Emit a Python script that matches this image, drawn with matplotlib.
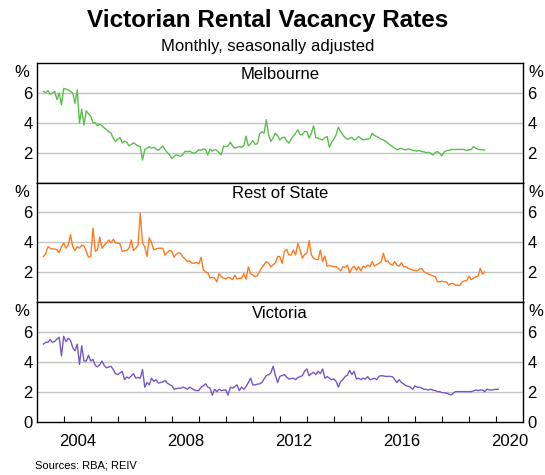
import numpy as np
import pandas as pd
import matplotlib
matplotlib.use("Agg")
import matplotlib.pyplot as plt

plt.rcParams['font.family'] = ['Liberation Sans', 'DejaVu Sans']

# ---------------- data (monthly, seasonally adjusted, %) ----------------
melb_start = "2003-04"
melbourne = [
    6.1, 6.0, 6.15, 5.9, 6.0, 6.1, 5.55, 6.0, 5.2,                       # 2003 Apr-Dec
    6.3, 6.25, 6.2, 6.1, 6.0, 5.3, 6.2, 4.0, 4.9, 3.85, 4.8, 4.6,         # 2004
    4.43, 4.0, 4.0, 3.8, 3.9, 3.8, 3.65, 3.55, 3.4, 3.3, 2.97, 2.75,      # 2005
    2.9, 3.0, 2.65, 2.75, 2.7, 2.45, 2.55, 2.65, 2.55, 2.45, 2.4, 1.5,    # 2006
    2.2, 2.3, 2.4, 2.3, 2.35, 2.25, 2.15, 2.3, 2.45, 2.2, 2.0, 1.85,      # 2007
    1.6, 1.75, 1.85, 1.8, 1.75, 1.9, 2.1, 2.05, 2.1, 2.0, 1.95, 2.05,     # 2008
    2.2, 2.15, 2.25, 2.2, 1.85, 2.25, 2.1, 2.2, 2.15, 2.0, 1.85, 2.45,    # 2009
    2.4, 2.45, 2.7, 2.45, 2.3, 2.35, 2.4, 2.35, 2.45, 3.1, 2.45, 2.6,     # 2010
    2.8, 2.55, 2.6, 3.25, 3.4, 3.3, 4.2, 3.2, 2.75, 3.0, 3.3, 3.15,       # 2011
    2.85, 3.0, 3.03, 2.8, 2.63, 2.9, 3.12, 3.3, 3.53, 3.2, 3.19, 3.42,    # 2012
    3.4, 2.97, 3.3, 3.8, 3.0, 2.97, 2.9, 2.85, 3.0, 3.08, 2.36, 2.7,      # 2013
    2.9, 3.2, 3.7, 3.4, 3.19, 3.0, 2.9, 2.95, 3.03, 2.85, 2.9, 3.08,      # 2014
    2.95, 2.85, 2.9, 2.9, 2.95, 3.3, 3.15, 3.08, 3.0, 2.9, 2.85, 2.75,    # 2015
    2.63, 2.5, 2.4, 2.3, 2.18, 2.25, 2.29, 2.2, 2.18, 2.25, 2.22, 2.15,   # 2016
    2.13, 2.1, 2.15, 2.07, 2.05, 2.0, 2.02, 1.95, 1.84, 2.0, 2.07, 1.95,  # 2017
    1.78, 2.05, 2.13, 2.15, 2.2, 2.22, 2.2, 2.22, 2.21, 2.22, 2.2, 2.15,  # 2018
    2.18, 2.2, 2.4, 2.3, 2.22, 2.2, 2.18, 2.18,                           # 2019 Jan-Aug
]

ros_start = "2003-04"
rest_of_state = [
    3.05, 3.23, 3.7, 3.6, 3.55, 3.55, 3.5, 3.3, 3.7,                      # 2003
    3.95, 3.6, 3.8, 4.5, 3.7, 3.45, 3.7, 3.6, 3.8, 3.75, 3.4, 3.0,        # 2004
    3.05, 4.95, 3.4, 3.5, 4.35, 3.6, 3.8, 3.95, 4.15, 3.95, 4.2, 3.95,    # 2005
    3.95, 3.9, 3.4, 3.42, 3.45, 3.6, 4.15, 3.45, 3.6, 3.8, 5.95, 3.95,    # 2006
    3.7, 3.05, 4.3, 3.95, 3.5, 3.55, 3.6, 3.6, 3.6, 3.15, 3.3, 3.45,      # 2007
    3.4, 3.0, 3.2, 3.3, 3.25, 3.0, 2.87, 2.7, 2.75, 2.6, 2.6, 2.65,       # 2008
    2.55, 3.0, 2.15, 2.0, 1.95, 1.6, 1.65, 1.6, 1.35, 1.9, 1.7, 1.6,      # 2009
    1.55, 1.65, 1.6, 1.5, 1.8, 1.53, 1.6, 1.57, 1.9, 1.53, 2.35, 1.9,     # 2010
    1.8, 1.7, 1.75, 2.05, 2.3, 2.5, 2.7, 2.6, 2.35, 2.5, 2.6, 3.05,       # 2011
    3.03, 2.58, 3.37, 3.53, 3.15, 3.15, 3.48, 3.15, 3.93, 3.48, 2.92, 3.2, # 2012
    3.26, 4.11, 3.15, 2.92, 2.85, 2.85, 3.48, 2.7, 3.08, 2.4, 2.45, 2.4,  # 2013
    2.36, 2.38, 2.25, 2.09, 2.36, 2.3, 2.47, 1.96, 2.25, 2.4, 2.13, 2.36, # 2014
    2.09, 2.4, 2.3, 2.47, 2.36, 2.7, 2.4, 2.5, 2.58, 2.7, 3.26, 2.7,      # 2015
    2.75, 2.54, 2.47, 2.7, 2.47, 2.4, 2.63, 2.36, 2.36, 2.25, 2.2, 2.13,  # 2016
    2.13, 2.09, 2.2, 2.25, 2.02, 1.95, 1.87, 1.8, 1.75, 1.69, 1.35, 1.35, # 2017
    1.4, 1.35, 1.35, 1.12, 1.24, 1.24, 1.12, 1.12, 1.12, 1.35, 1.42, 1.42, # 2018
    1.73, 1.5, 1.6, 1.69, 1.72, 2.25, 1.87, 2.02,                         # 2019 Jan-Aug
]

vic_start = "2003-04"
victoria = [
    5.18, 5.3, 5.3, 5.48, 5.3, 5.36, 5.52, 5.64, 4.39,                    # 2003
    5.7, 5.34, 5.57, 5.43, 4.95, 4.73, 5.18, 3.82, 5.07, 4.05, 4.05, 4.43, # 2004
    4.05, 4.16, 3.75, 3.66, 3.8, 4.05, 3.75, 3.59, 3.65, 3.7, 3.48, 3.2,  # 2005
    3.14, 3.25, 3.36, 2.8, 2.98, 2.9, 3.05, 3.2, 2.9, 2.95, 2.9, 3.48,    # 2006
    2.3, 2.61, 2.45, 2.9, 2.68, 2.8, 2.57, 2.61, 2.66, 2.75, 2.57, 2.48,  # 2007
    2.39, 2.16, 2.2, 2.23, 2.23, 2.3, 2.25, 2.16, 2.3, 2.2, 2.11, 2.07,   # 2008
    2.07, 2.3, 2.39, 2.52, 2.3, 2.23, 1.77, 2.16, 2.0, 2.16, 2.07, 2.1,   # 2009
    2.11, 1.77, 2.3, 2.23, 2.34, 2.45, 2.07, 2.3, 2.16, 2.34, 2.61, 2.9,  # 2010
    2.45, 2.45, 2.5, 2.52, 2.61, 2.85, 3.07, 3.14, 3.25, 3.7, 3.1, 2.61,  # 2011
    3.02, 3.08, 3.14, 2.98, 2.84, 2.88, 2.9, 2.8, 2.95, 3.0, 3.07, 3.36,  # 2012
    3.52, 3.07, 3.2, 3.3, 3.14, 3.36, 3.2, 3.52, 2.9, 3.0, 2.9, 2.8,      # 2013
    2.85, 2.68, 2.3, 2.68, 2.8, 3.02, 3.1, 3.43, 3.14, 3.36, 2.84, 2.9,   # 2014
    2.8, 2.9, 2.84, 3.0, 2.8, 2.84, 2.9, 2.8, 3.02, 3.07, 3.05, 3.02,     # 2015
    3.02, 3.02, 3.0, 2.8, 2.61, 2.8, 2.61, 2.52, 2.39, 2.35, 2.3, 2.16,   # 2016
    2.39, 2.3, 2.3, 2.23, 2.16, 2.15, 2.11, 2.16, 2.1, 2.07, 2.0, 2.0,    # 2017
    1.93, 1.93, 1.9, 1.84, 1.77, 1.89, 2.0, 2.0, 2.0, 2.0, 2.0, 2.0,      # 2018
    2.0, 2.0, 2.05, 2.11, 2.07, 2.11, 2.11, 2.0, 2.16, 2.11, 2.11, 2.13,  # 2019
    2.16, 2.16,                                                           # 2020 Jan-Feb
]

panel_titles = ["Melbourne", "Rest of State", "Victoria"]
series = [melbourne, rest_of_state, victoria]
starts = [melb_start, ros_start, vic_start]
colors = ["#5ABF4B", "#FF7A1F", "#7657C8"]

ytick_vals = [2, 4, 6]
year_labels = [2004, 2008, 2012, 2016, 2020]
x_min, x_max = 2003, 2021


def to_decimal_years(start, n):
    d = pd.date_range(start=start, periods=n, freq="MS")
    return d.year + (d.month - 1) / 12.0


# ---------------- figure ----------------
W, H = 545, 475
fig = plt.figure(figsize=(W / 100, H / 100), dpi=100)

left_px, right_px = 36.7, 523.0
top_px, bottom_px = 63.0, 421.5
panel_h = (bottom_px - top_px) / 3

fs = 12
axes = []
for i in range(3):
    y_top = top_px + i * panel_h
    ax = fig.add_axes([left_px / W, 1 - (y_top + panel_h) / H,
                       (right_px - left_px) / W, panel_h / H])
    axes.append(ax)
    vals = series[i]
    x = to_decimal_years(starts[i], len(vals))
    ax.plot(x, vals, color=colors[i], lw=1.0, solid_joinstyle="round", zorder=3)

    ax.set_xlim(x_min, x_max)
    ax.set_ylim(0, 8)
    yt = ([0] if i == 2 else []) + ytick_vals
    ax.set_yticks(yt)
    ax.set_yticklabels([str(v) for v in yt])
    for v in ytick_vals:
        ax.axhline(v, color="#C4C4C4", lw=1.0, zorder=1)
    ax.tick_params(axis="y", which="both", length=0, labelsize=fs,
                   left=False, right=False, labelleft=True, labelright=True,
                   pad=3)
    for s in ax.spines.values():
        s.set_linewidth(1.0)
        s.set_color("black")

    # % unit labels
    ax.text(-0.030, 7.35, "%", transform=ax.get_yaxis_transform(),
            ha="center", va="center", fontsize=fs)
    ax.text(1.026, 7.35, "%", transform=ax.get_yaxis_transform(),
            ha="center", va="center", fontsize=fs)

    ax.text(0.5, 7.25, panel_titles[i], transform=ax.get_yaxis_transform(),
            ha="center", va="center", fontsize=fs)

    if i < 2:
        ax.set_xticks([])
    else:
        ax.set_xticks(np.arange(2004, 2021), minor=True)
        ax.set_xticks([y + 0.5 for y in year_labels])
        ax.set_xticklabels([str(y) for y in year_labels])
        ax.tick_params(axis="x", which="major", length=0, labelsize=fs, pad=9)
        ax.tick_params(axis="x", which="minor", direction="in", length=4,
                       width=0.8, top=False)

fig.text(268 / W, 1 - 20 / H, "Victorian Rental Vacancy Rates",
         ha="center", va="center", fontsize=17.5, fontweight="bold")
fig.text(268 / W, 1 - 47 / H, "Monthly, seasonally adjusted",
         ha="center", va="center", fontsize=12)
fig.text(35 / W, 1 - 466 / H, "Sources: RBA; REIV",
         ha="left", va="center", fontsize=8)

fig.savefig("out.png", dpi=100)
